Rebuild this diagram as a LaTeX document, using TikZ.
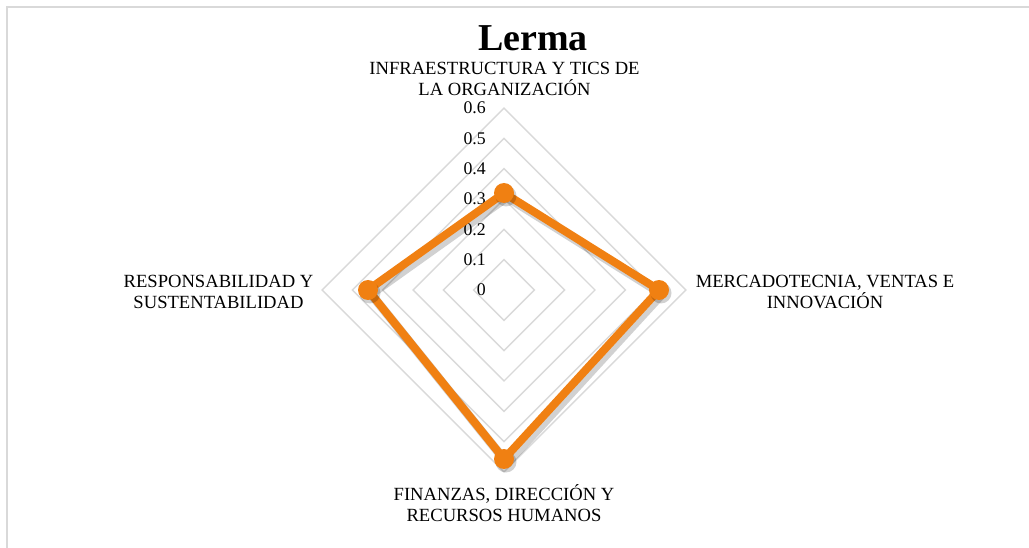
\documentclass[tikz,border=0pt]{standalone}
\usepackage{fontspec}
\setmainfont{Liberation Serif}
\usetikzlibrary{calc}
\definecolor{gridgray}{RGB}{217,217,217}
\definecolor{framegray}{RGB}{217,217,217}
\definecolor{serieorange}{RGB}{240,128,18}
\begin{document}
\begin{tikzpicture}[x=1pt,y=1pt,
  gridline/.style={draw=gridgray,line width=1.4pt},
  serie/.style={draw=serieorange,line width=8pt,line join=round},
  shadowline/.style={draw=black,opacity=0.18,line width=9pt,line join=round},
  dotmark/.style={circle,fill=serieorange,inner sep=0pt,minimum size=20pt},
  shadowdot/.style={circle,fill=black,opacity=0.18,inner sep=0pt,minimum size=21pt},
  axlabel/.style={font=\fontsize{18.6}{21.5}\selectfont,align=center,inner sep=0pt},
  ticklabel/.style={font=\fontsize{17.8}{18}\selectfont,anchor=east,inner sep=0pt}]
\useasboundingbox (0,0) rectangle (1029,-548);
\fill[white] (0,0) rectangle (1029,-548);
\draw[framegray,line width=2pt] (6.5,-549) -- (6.5,-7.5) -- (1030,-7.5);
\coordinate (c) at (504,-290);
% grid diamonds
\foreach \k in {1,...,6}{
  \draw[gridline] ($(c)+(0,{\k*30.33})$) -- ($(c)+({\k*30.33},0)$) -- ($(c)+(0,{-\k*30.33})$) -- ($(c)+({-\k*30.33},0)$) -- cycle;
}
% tick labels
\foreach \k/\t in {0/0,1/0.1,2/0.2,3/0.3,4/0.4,5/0.5,6/0.6}{
  \node[ticklabel] (t\k) at ($(c)+(-18,{\k*30.33})$) {\t};
}
% data points
\coordinate (p1) at ($(c)+(0,97)$);
\coordinate (p2) at ($(c)+(155,0)$);
\coordinate (p3) at ($(c)+(0,-169)$);
\coordinate (p4) at ($(c)+(-136,0)$);
\draw[shadowline] ([shift={(3,-4)}]p1) -- ([shift={(3,-4)}]p2) -- ([shift={(3,-4)}]p3) -- ([shift={(3,-4)}]p4) -- cycle;
\draw[serie] (p1) -- (p2) -- (p3) -- (p4) -- cycle;
\foreach \p in {p1,p2,p3,p4}{
  \node[shadowdot] at ([shift={(2,-3)}]\p) {};
  \node[dotmark] (m\p) at (\p) {};
}
% labels
\node[font=\bfseries\fontsize{38}{40}\selectfont,inner sep=0pt] (title) at (533,-38) {Lerma};
\node[axlabel] (ltop) at (504.5,-79) {INFRAESTRUCTURA Y TICS DE\\LA ORGANIZACIÓN};
\node[axlabel] (lright) at (825,-292) {MERCADOTECNIA, VENTAS E\\INNOVACIÓN};
\node[axlabel] (lbottom) at (504,-503) {FINANZAS, DIRECCIÓN Y\\RECURSOS HUMANOS};
\node[axlabel] (lleft) at (218.5,-292) {RESPONSABILIDAD Y\\SUSTENTABILIDAD};
\end{tikzpicture}
\end{document}
